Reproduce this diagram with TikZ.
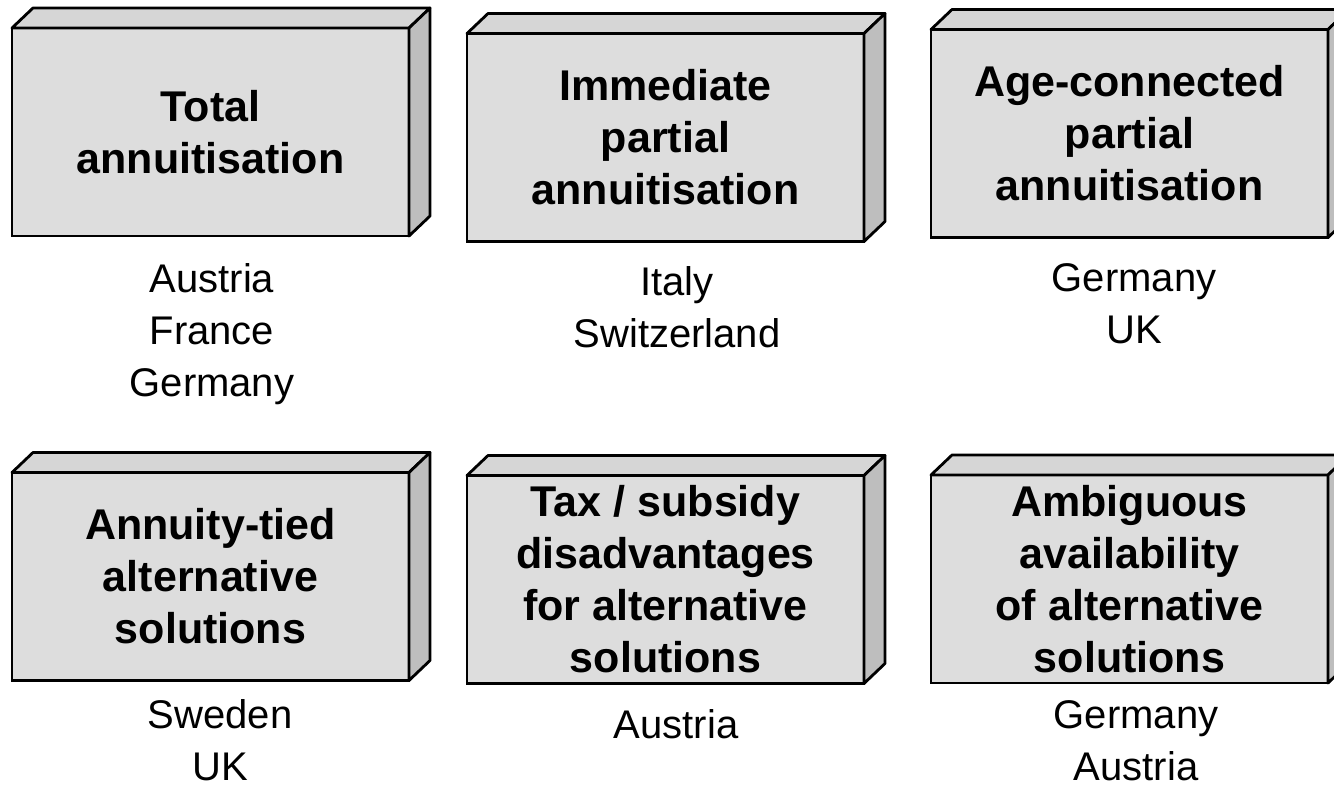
\documentclass[tikz,border=0pt]{standalone}
\usepackage{fontspec}
\setmainfont{Liberation Sans}
\definecolor{boxfront}{HTML}{DDDDDD}
\definecolor{boxtop}{HTML}{D6D6D6}
\definecolor{boxside}{HTML}{BEBEBE}
\tikzset{
  frontbox/.style={draw,line width=2.8pt,fill=boxfront,minimum width=397pt,minimum height=208pt,
    inner sep=0pt,outer sep=0pt,align=center,font=\fontsize{43}{52}\selectfont\bfseries},
  topface/.style={draw,line width=2.8pt,line join=round,fill=boxtop},
  sideface/.style={draw,line width=2.8pt,line join=round,fill=boxside},
  country/.style={anchor=base,align=center,font=\fontsize{40}{52}\selectfont},
}
\begin{document}
\begin{tikzpicture}[x=1pt,y=-1pt]
        \useasboundingbox (0,0) rectangle (1334,788);
        %first row
        \node[frontbox] (total) at (210.5,132) {Total\\annuitisation};
        \node[frontbox] (immediate) at (665.5,137.5) {Immediate\\partial\\annuitisation};
        \node[frontbox] (agecon) at (1129.5,133.5) {Age-connected\\partial\\annuitisation};
        %second row
        \node[frontbox] (tied) at (210.5,576.5) {Annuity-tied\\alternative\\solutions};
        \node[frontbox] (taxsub) at (665.5,579.5) {Tax / subsidy\\disadvantages\\for alternative\\solutions};
        \node[frontbox] (ambig) at (1129.5,579) {Ambiguous\\availability\\of alternative\\solutions};
        %depth faces
        \foreach \b in {total,immediate,agecon,tied,taxsub,ambig}{
          \draw[topface] (\b.north west) -- ++(21,-20) -- ([shift={(21,-20)}]\b.north east) -- (\b.north east) -- cycle;
          \draw[sideface] (\b.north east) -- ++(21,-20) -- ([shift={(21,-20)}]\b.south east) -- (\b.south east) -- cycle;
        }
        %countries (base = last line)
        \node[country] (c1) at (212,396) {Austria\\France\\Germany};
        \node[country] (c2) at (677,347) {Italy\\Switzerland};
        \node[country] (c3) at (1134,343) {Germany\\UK};
        \node[country] (c4) at (220,780) {Sweden\\UK};
        \node[country] (c5) at (676,738) {Austria};
        \node[country] (c6) at (1136,780) {Germany\\Austria};
    \end{tikzpicture}
\end{document}
